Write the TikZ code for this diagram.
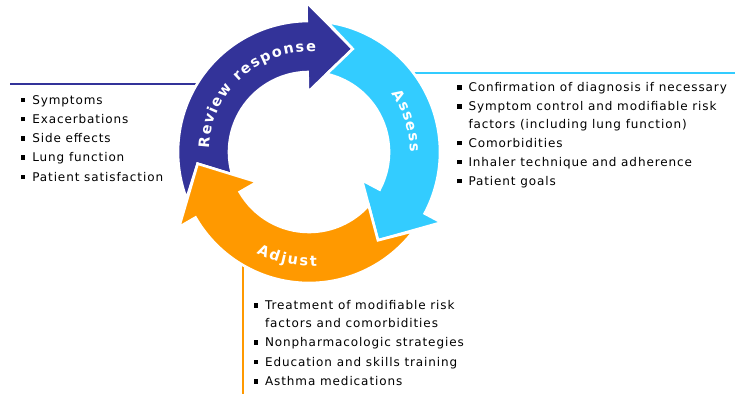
\documentclass[tikz,border=0pt]{standalone}
\usepackage{fontspec}
\setmainfont{DejaVu Sans}
\newfontfamily\listfont[LetterSpace=7.5]{DejaVu Sans}
\usepackage{xcolor}
\usetikzlibrary{positioning, decorations.text}

\definecolor{reviewblue}{HTML}{333399}
\definecolor{assessblue}{HTML}{33CCFF}
\definecolor{adjustorange}{HTML}{FF9900}

\newcommand{\sqbullet}{\makebox[11.6pt][l]{\raisebox{2pt}{\rule{4.6pt}{4.6pt}}}}

\begin{document}
\begin{tikzpicture}[
    x=1pt, y=1pt,
    ringarrow/.style={fill=#1, draw=white, line width=2.6pt, line join=miter},
    ringlabel/.style={decorate, decoration={text along path, text align=fit to path, text color=white, text={|\fontsize{14.5}{14.5}\selectfont\bfseries|#1}}},
    bulletlist/.style={anchor=north west, inner sep=0pt, align=left, font=\listfont\fontsize{12}{17.5}\selectfont},
    leader/.style={draw=#1, line width=2pt}
]
\useasboundingbox (0,0) rectangle (735,-394);

% === LEADER LINES (behind the ring) ===
\coordinate (reviewstart) at (10,-84);
\coordinate (reviewend) at (230,-84);
\coordinate (assessstart) at (395,-72.5);
\coordinate (assessend) at (735,-72.5);
\coordinate (adjuststart) at (243,-250);
\coordinate (adjustend) at (243,-394);
\draw[leader=reviewblue] (reviewstart) -- (reviewend);
\draw[leader=assessblue] (assessstart) -- (assessend);
\draw[leader=adjustorange] (adjuststart) -- (adjustend);

% === CYCLE ARROWS ===
\begin{scope}[shift={(309,-152)}]
    % Review response
    \filldraw[ringarrow=reviewblue] (200.8:131) arc[start angle=200.8, end angle=91, radius=131] -- (91:150) -- (67:112) -- (91:60) -- (91:80) arc[start angle=91, end angle=196.2, radius=80] -- (186:112) -- cycle;
    % Assess
    \filldraw[ringarrow=assessblue] (81.8:131) arc[start angle=81.8, end angle=-28, radius=131] -- (-28:150) -- (-52:112) -- (-28:60) -- (-28:80) arc[start angle=-28, end angle=77.2, radius=80] -- (67:112) -- cycle;
    % Adjust
    \filldraw[ringarrow=adjustorange] (322.8:131) arc[start angle=322.8, end angle=210, radius=131] -- (210:150) -- (186:112) -- (210:60) -- (210:80) arc[start angle=210, end angle=318.2, radius=80] -- (308:112) -- cycle;

    % labels along the ring
    \path[ringlabel=Review response] (178:100) arc[start angle=178, end angle=86, radius=100];
    \path[ringlabel=Assess] (35:101) arc[start angle=35, end angle=0, radius=101];
    \path[ringlabel=Adjust] (242.5:114) arc[start angle=242.5, end angle=274, radius=114];
\end{scope}

% === BULLET LISTS ===
\node[bulletlist] (reviewlist) at (20.5,-91.75) {\strut\sqbullet Symptoms\\[1.75pt]
    \sqbullet Exacerbations\\[1.75pt]
    \sqbullet Side effects\\[1.75pt]
    \sqbullet Lung function\\[1.75pt]
    \sqbullet Patient satisfaction};

\node[bulletlist] (assesslist) at (456.7,-79.5) {\strut\sqbullet Confirmation of diagnosis if necessary\\[1.5pt]
    \sqbullet Symptom control and modifiable risk\\
    \hspace*{11.6pt}factors (including lung function)\\[1.5pt]
    \sqbullet Comorbidities\\[1.5pt]
    \sqbullet Inhaler technique and adherence\\[1.5pt]
    \sqbullet Patient goals};

\node[bulletlist] (adjustlist) at (253.3,-297.25) {\strut\sqbullet Treatment of modifiable risk\\
    \hspace*{11.6pt}factors and comorbidities\\[2pt]
    \sqbullet Nonpharmacologic strategies\\[2pt]
    \sqbullet Education and skills training\\[2pt]
    \sqbullet Asthma medications};

\end{tikzpicture}
\end{document}
